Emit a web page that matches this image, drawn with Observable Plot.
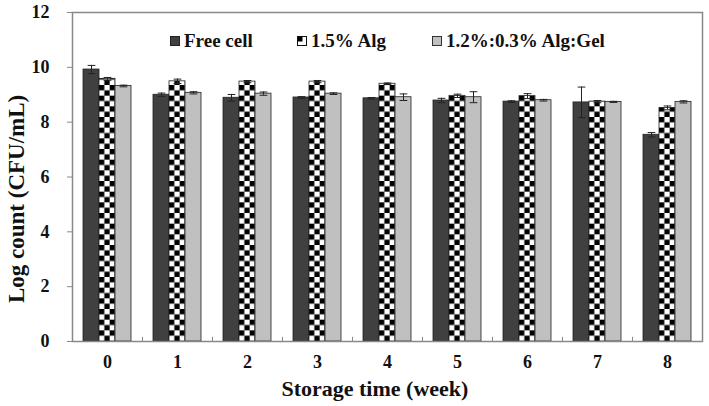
<!DOCTYPE html>
<html>
<head>
<meta charset="utf-8">
<script src="https://cdn.jsdelivr.net/npm/d3@7"></script>
<script src="https://cdn.jsdelivr.net/npm/@observablehq/plot@0.6"></script>
<style>
  body { margin: 0; background: #fff; }
  #wrap { position: relative; width: 709px; height: 406px; }
  .legend-item { position: absolute; top: 30px; display: flex; align-items: center;
    font: bold 19px "Liberation Serif", "Times New Roman", serif; color: #111; white-space: nowrap; }
  .legend-item svg { margin-right: 4px; }
</style>
</head>
<body>
<div id="wrap"></div>
<script>
// Storage weeks (x categories)
const weeks = [0, 1, 2, 3, 4, 5, 6, 7, 8];
const seriesNames = ["Free cell", "1.5% Alg", "1.2%:0.3% Alg:Gel"];

// Mean log counts (CFU/mL) and standard deviations per series
const freeCell    = [9.92, 9.00, 8.89, 8.90, 8.87, 8.79, 8.75, 8.72, 7.54];
const freeCellErr = [0.15, 0.06, 0.12, 0.03, 0.03, 0.08, 0.03, 0.56, 0.08];
const alg15       = [9.58, 9.49, 9.48, 9.48, 9.40, 8.96, 8.95, 8.75, 8.52];
const alg15Err    = [0.05, 0.08, 0.04, 0.04, 0.03, 0.06, 0.09, 0.04, 0.07];
const algGel      = [9.32, 9.07, 9.04, 9.04, 8.91, 8.91, 8.80, 8.74, 8.74];
const algGelErr   = [0.03, 0.04, 0.06, 0.03, 0.12, 0.20, 0.03, 0.02, 0.04];

const yTicks = [0, 2, 4, 6, 8, 10, 12];

const seriesValues = [freeCell, alg15, algGel];
const seriesErrors = [freeCellErr, alg15Err, algGelErr];

// Bar geometry in week units (one week = one group slot)
const bw = 16 / 70;
const capHalf = 0.055;
const font = `"Liberation Serif", "Times New Roman", serif`;

const rows = weeks.flatMap((w, i) => seriesNames.map((name, k) => ({
  week: w, k, series: name,
  value: seriesValues[k][i], err: seriesErrors[k][i],
  center: w + (k - 1) * bw
})));

const fills = ["#404040", null, "#c0c0c0"];
const boundaries = weeks.slice(1).map(w => w - 0.5);

const plot = Plot.plot({
  width: 709,
  height: 406,
  marginLeft: 72,
  marginRight: 7,
  marginTop: 12,
  marginBottom: 65,
  style: { fontFamily: font, fontWeight: "bold", fontSize: "18px", color: "#111", background: "#fff" },
  x: { type: "linear", domain: [-0.5, 8.5] },
  y: { domain: [0, 12] },
  marks: [
    Plot.rectY(rows, {
      x1: d => d.center - bw / 2,
      x2: d => d.center + bw / 2,
      y1: 0,
      y2: "value",
      fill: d => d.k === 1 ? `url(#checker-${d.week})` : fills[d.k],
      stroke: "#222",
      strokeWidth: 0.8
    }),
    // error bars
    Plot.ruleX(rows, { x: "center", y1: d => d.value - d.err, y2: d => d.value + d.err, stroke: "#222", strokeWidth: 1 }),
    Plot.link(rows, { x1: d => d.center - capHalf, x2: d => d.center + capHalf, y1: d => d.value + d.err, y2: d => d.value + d.err, stroke: "#222", strokeWidth: 1 }),
    Plot.link(rows, { x1: d => d.center - capHalf, x2: d => d.center + capHalf, y1: d => d.value - d.err, y2: d => d.value - d.err, stroke: "#222", strokeWidth: 1 }),
    // small category separators on the baseline
    Plot.ruleX(boundaries, { y1: 0, y2: 0.15, stroke: "#888", strokeWidth: 1 }),
    Plot.frame({ stroke: "#888", strokeWidth: 1.5 }),
    Plot.axisY(yTicks, { tickSize: 5, tickPadding: 18, stroke: "#888", label: null, fontSize: 18 }),
    Plot.axisX(weeks, { tickSize: 0, tickPadding: 14, tickFormat: d => String(d), label: null, fontSize: 18 }),
    Plot.text(["Log count (CFU/mL)"], { frameAnchor: "left", y: 5.2, dx: -56, rotate: -90, textAnchor: "middle", fontSize: 23, fontWeight: "bold", fill: "#111" }),
    Plot.text(["Storage time (week)"], { frameAnchor: "bottom", x: 3.82, dy: 47, textAnchor: "middle", lineAnchor: "middle", fontSize: 22, fontWeight: "bold", fill: "#111" })
  ]
});

// Checkerboard fills for the 1.5% Alg bars, aligned to each bar's left edge
const xs = plot.scale("x"), ys = plot.scale("y");
const cell = (xs.apply(bw) - xs.apply(0)) / 3;
const defs = d3.select(plot).insert("defs", ":first-child");
weeks.forEach(w => {
  const p = defs.append("pattern")
    .attr("id", `checker-${w}`)
    .attr("patternUnits", "userSpaceOnUse")
    .attr("x", xs.apply(w - bw / 2))
    .attr("y", ys.apply(0))
    .attr("width", 2 * cell)
    .attr("height", 2 * cell);
  p.append("rect").attr("width", 2 * cell).attr("height", 2 * cell).attr("fill", "#fff");
  p.append("rect").attr("width", cell).attr("height", cell).attr("fill", "#000");
  p.append("rect").attr("x", cell).attr("y", cell).attr("width", cell).attr("height", cell).attr("fill", "#000");
});

const wrap = document.getElementById("wrap");
wrap.appendChild(plot);

// Legend drawn over the top of the plot area
const legendLefts = [170, 297, 432];
const swatches = [
  `<svg width="10" height="10"><rect x="0.5" y="0.5" width="9" height="9" fill="#404040" stroke="#222"/></svg>`,
  `<svg width="10" height="10"><rect x="0.5" y="0.5" width="9" height="9" fill="#fff" stroke="#111"/><rect x="1" y="1" width="4.5" height="4.5" fill="#000"/></svg>`,
  `<svg width="10" height="10"><rect x="0.5" y="0.5" width="9" height="9" fill="#c0c0c0" stroke="#333"/></svg>`
];
seriesNames.forEach((name, k) => {
  const item = document.createElement("div");
  item.className = "legend-item";
  item.style.left = legendLefts[k] + "px";
  item.innerHTML = swatches[k] + `<span>${name}</span>`;
  wrap.appendChild(item);
});
</script>
</body>
</html>
